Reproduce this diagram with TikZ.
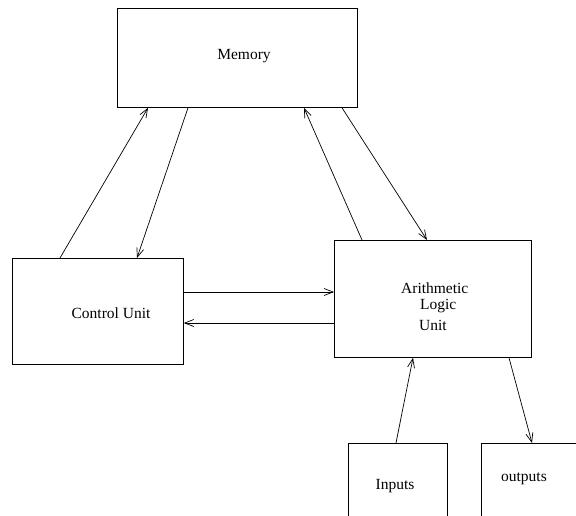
\documentclass[tikz,border=0pt]{standalone}
\usepackage{fontspec}
\setmainfont{Liberation Serif}
\usetikzlibrary{arrows.meta,positioning}
\begin{document}
\begin{tikzpicture}[x=1pt,y=-1pt,
  box/.style={draw,line width=0.8pt,rectangle,inner sep=0pt,anchor=north west},
  lbl/.style={font=\fontsize{15.5}{19}\selectfont,inner sep=0pt},
  conn/.style={line width=0.7pt,-{Straight Barb[length=9pt,width=7pt]}}]
\useasboundingbox (0,0) rectangle (576,515);
\clip (0,0) rectangle (576,515);
\node[box,minimum width=240pt,minimum height=99pt] (mem) at (117,8) {};
\node[box,minimum width=171pt,minimum height=106pt] (cu) at (12,258) {};
\node[box,minimum width=197pt,minimum height=117pt] (alu) at (334,240) {};
\node[box,minimum width=99pt,minimum height=100pt] (inp) at (348,443) {};
\node[box,minimum width=100pt,minimum height=100pt] (out) at (481,443) {};
\node[lbl] (memt) at (244,56) {Memory};
\node[lbl] (cut) at (111,313) {Control Unit};
\node[lbl,anchor=west] (alut1) at (401,288) {Arithmetic};
\node[lbl,anchor=west] (alut2) at (420,306) {Logic};
\node[lbl,anchor=west] (alut3) at (419,325) {Unit};
\node[lbl] (inpt) at (395,486) {Inputs};
\node[lbl] (outt) at (524,479) {outputs};
\draw[conn] ([xshift=48pt]cu.north west) -- ([xshift=31pt]mem.south west);
\draw[conn] ([xshift=71pt]mem.south west) -- ([xshift=125pt]cu.north west);
\draw[conn] ([xshift=28pt]alu.north west) -- ([xshift=187pt]mem.south west);
\draw[conn] ([xshift=225pt]mem.south west) -- ([xshift=93pt]alu.north west);
\draw[conn] ([yshift=-34pt]cu.north east) -- ([yshift=-52pt]alu.north west);
\draw[conn] ([yshift=-83pt]alu.north west) -- ([yshift=-65pt]cu.north east);
\draw[conn] ([xshift=48pt]inp.north west) -- ([xshift=79pt]alu.south west);
\draw[conn] ([xshift=175pt]alu.south west) -- ([xshift=51pt]out.north west);
\end{tikzpicture}
\end{document}
